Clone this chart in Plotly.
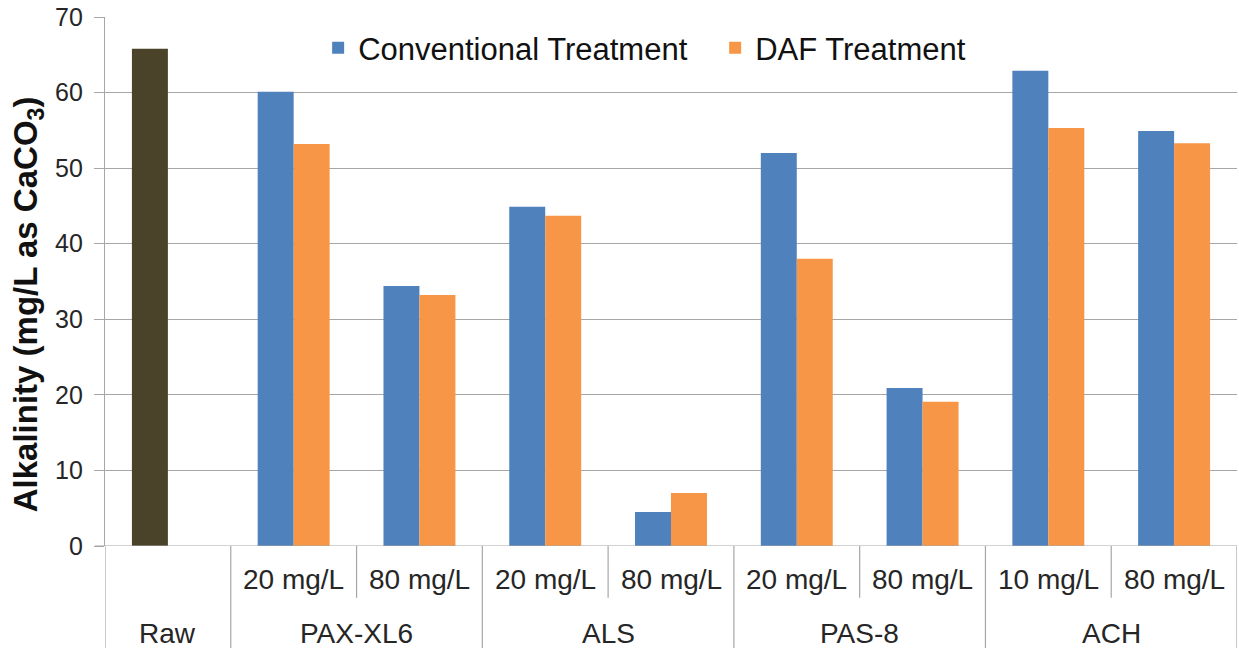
import plotly.graph_objects as go

# Alkalinity after coagulation, conventional vs. DAF treatment
groups = ["Raw", "PAX-XL6", "PAX-XL6", "ALS", "ALS", "PAS-8", "PAS-8", "ACH", "ACH"]
doses = ["", "20 mg/L", "80 mg/L", "20 mg/L", "80 mg/L", "20 mg/L", "80 mg/L", "10 mg/L", "80 mg/L"]
raw_value = [65.8]
conventional = [None, 60.1, 34.4, 44.9, 4.5, 52.0, 20.9, 62.9, 54.9]
daf = [None, 53.2, 33.2, 43.7, 7.0, 38.0, 19.1, 55.3, 53.3]
y_ticks = [0, 10, 20, 30, 40, 50, 60, 70]

FONT = "Liberation Sans, Arial, sans-serif"
BLUE = "#4f81bd"
ORANGE = "#f79646"
OLIVE = "#4a4329"
GRID = "#a6a6a6"
TEXT = "#262626"

xs = list(range(len(groups)))
bar_w = 0.286

fig = go.Figure()
fig.add_trace(go.Bar(
    x=[0], y=raw_value, width=bar_w, offset=-bar_w,
    marker=dict(color=OLIVE, line=dict(width=0)), showlegend=False,
))
fig.add_trace(go.Bar(
    x=xs, y=conventional, width=bar_w, offset=-bar_w, name="Conventional Treatment",
    marker=dict(color=BLUE, line=dict(width=0)),
))
fig.add_trace(go.Bar(
    x=xs, y=daf, width=bar_w, offset=0, name="DAF Treatment",
    marker=dict(color=ORANGE, line=dict(width=0)),
))

shapes = []
annotations = []
lo, hi = -0.5, len(groups) - 0.5
# Vertical dividers below the axis: full height between groups, short between doses
for i in range(len(groups) + 1):
    xpos = i - 0.5
    if i == 0 or i == len(groups) or groups[i] != groups[i - 1]:
        y_end = -0.195
    else:
        y_end = -0.098
    shapes.append(dict(type="line", xref="x", yref="paper", x0=xpos, x1=xpos,
                       y0=0, y1=y_end, line=dict(color=GRID, width=1.2)))

# Dose labels
for i, d in enumerate(doses):
    if d:
        annotations.append(dict(x=i, y=-0.064, xref="x", yref="paper", text=d,
                                showarrow=False, yanchor="middle",
                                font=dict(family=FONT, size=28, color=TEXT)))
# Group labels
start = 0
for i in range(1, len(groups) + 1):
    if i == len(groups) or groups[i] != groups[start]:
        annotations.append(dict(x=(start + i - 1) / 2, y=-0.166, xref="x", yref="paper",
                                text=groups[start], showarrow=False, yanchor="middle",
                                font=dict(family=FONT, size=28, color=TEXT)))
        start = i

# Y-axis title
annotations.append(dict(x=-0.068, y=0.457, xref="paper", yref="paper", textangle=-90,
                        text="<b>Alkalinity (mg/L as CaCO<sub>3</sub>)</b>", showarrow=False,
                        xanchor="center", yanchor="middle",
                        font=dict(family=FONT, size=33, color="#111")))

fig.update_layout(
    width=1239, height=648,
    margin=dict(l=105, r=2, t=17, b=102),
    plot_bgcolor="white", paper_bgcolor="white",
    barmode="overlay",
    font=dict(family=FONT, color=TEXT),
    showlegend=True,
    legend=dict(orientation="h", x=0.539, y=0.941, xanchor="center", yanchor="middle",
                font=dict(family=FONT, size=31, color="#111"),
                bgcolor="rgba(0,0,0,0)", itemwidth=30, entrywidth=352,
                traceorder="normal"),
    shapes=shapes,
    annotations=annotations,
)
fig.update_xaxes(range=[lo, hi], showticklabels=False, showgrid=False, zeroline=False,
                 showline=False, ticks="")
fig.update_yaxes(range=[0, 70], tickvals=y_ticks, showgrid=True, gridcolor=GRID, gridwidth=1.2,
                 zeroline=False, showline=True, linecolor=GRID, linewidth=1.2,
                 ticks="outside", ticklen=10, tickcolor=GRID, tickwidth=1.2,
                 ticklabelstandoff=6,
                 tickfont=dict(family=FONT, size=25, color=TEXT))
# Baseline along y = 0
fig.add_shape(type="line", xref="paper", yref="y", x0=-0.009, x1=1, y0=0, y1=0,
              line=dict(color=GRID, width=1.2))

fig.write_html("out.html")
